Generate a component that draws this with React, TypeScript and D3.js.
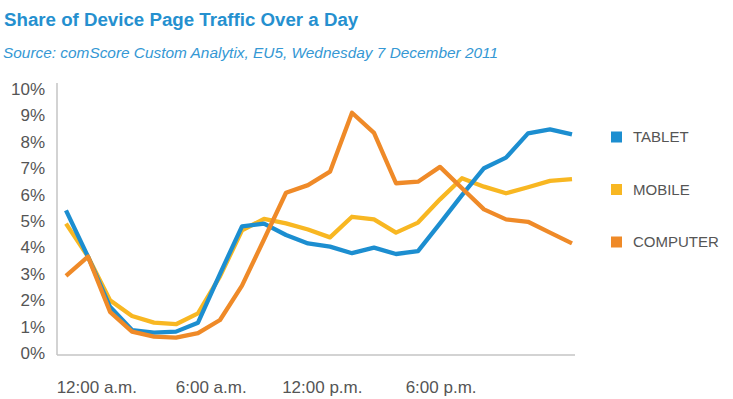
import { useEffect } from "react";
import * as d3 from "d3";

// hourly share of page traffic (%), hour 0 .. 23
const HOURS = d3.range(24);
const TABLET = [5.4, 3.65, 1.75, 0.87, 0.77, 0.81, 1.15, 3.0, 4.8, 4.9, 4.47, 4.15, 4.03, 3.78, 3.99, 3.75, 3.86, 4.91, 5.98, 7.0, 7.4, 8.32, 8.47, 8.28];
const MOBILE = [4.9, 3.65, 2.0, 1.4, 1.15, 1.09, 1.5, 2.9, 4.65, 5.08, 4.91, 4.68, 4.38, 5.16, 5.06, 4.56, 4.94, 5.82, 6.62, 6.3, 6.05, 6.28, 6.52, 6.59];
const COMPUTER = [2.92, 3.65, 1.56, 0.81, 0.62, 0.58, 0.75, 1.25, 2.55, 4.3, 6.07, 6.36, 6.87, 9.1, 8.34, 6.43, 6.49, 7.05, 6.24, 5.44, 5.06, 4.97, 4.56, 4.15];

const Y_TICKS = d3.range(0, 11);
// x labels sit a bit off the hour grid in the original
const X_TICK_LABELS = ["12:00 a.m.", "6:00 a.m.", "12:00 p.m.", "6:00 p.m."];
const X_TICK_HOURS = [1.4, 6.6, 11.65, 17.05];

const SERIES = [
  { key: "mobile", label: "MOBILE", color: "#f8b722", values: MOBILE },
  { key: "tablet", label: "TABLET", color: "#1c8ed0", values: TABLET },
  { key: "computer", label: "COMPUTER", color: "#ef8a28", values: COMPUTER },
];
const LEGEND_ORDER = ["tablet", "mobile", "computer"];

const W = 733;
const H = 399;
const FONT = "'Liberation Sans', Arial, Helvetica, sans-serif";

export default function App() {
  useEffect(() => {
    document.body.style.margin = "0";
  }, []);

  const x = d3.scaleLinear().domain([0, 23]).range([66, 572]);
  const y = d3.scaleLinear().domain([0, 10]).range([353, 89]);

  const line = d3
    .line<number>()
    .x((_, i) => x(HOURS[i]))
    .y((d) => y(d));

  const axisY = y(0) + 2;

  return (
    <svg width={W} height={H} style={{ display: "block", background: "#fff" }}>
      {/* Title */}
      <text x={4} y={26} fill="#2590cf" fontFamily={FONT} fontWeight={700} fontSize={18.7}>
        Share of Device Page Traffic Over a Day
      </text>
      <text x={3} y={58} fill="#3598d4" fontFamily={FONT} fontStyle="italic" fontSize={15.4}>
        Source: comScore Custom Analytix, EU5, Wednesday 7 December 2011
      </text>

      {/* Axes */}
      <line x1={57} x2={57} y1={y(10) - 6} y2={axisY} stroke="#c4c4c4" strokeWidth={1.5} />
      <line x1={57} x2={575} y1={axisY} y2={axisY} stroke="#c4c4c4" strokeWidth={1.5} />

      {Y_TICKS.map((t) => (
        <text
          key={t}
          x={45}
          y={y(t)}
          dy="0.35em"
          textAnchor="end"
          fill="#555"
          fontFamily={FONT}
          fontSize={17}
        >
          {t}%
        </text>
      ))}

      {X_TICK_LABELS.map((lab, i) => (
        <text
          key={lab}
          x={x(X_TICK_HOURS[i])}
          y={393}
          textAnchor="middle"
          fill="#555"
          fontFamily={FONT}
          fontSize={17}
        >
          {lab}
        </text>
      ))}

      {/* Lines */}
      {SERIES.map((s) => (
        <path
          key={s.key}
          d={line(s.values) ?? ""}
          fill="none"
          stroke={s.color}
          strokeWidth={4.3}
          strokeLinejoin="round"
        />
      ))}

      {/* Legend */}
      {LEGEND_ORDER.map((k, i) => {
        const s = SERIES.find((d) => d.key === k)!;
        const cy = 137 + i * 52.5;
        return (
          <g key={k} transform={`translate(611,${cy})`}>
            <rect x={0} y={-5.5} width={11} height={11} fill={s.color} />
            <text x={22} y={0} dy="0.36em" fill="#555" fontFamily={FONT} fontSize={15}>
              {s.label}
            </text>
          </g>
        );
      })}
    </svg>
  );
}
